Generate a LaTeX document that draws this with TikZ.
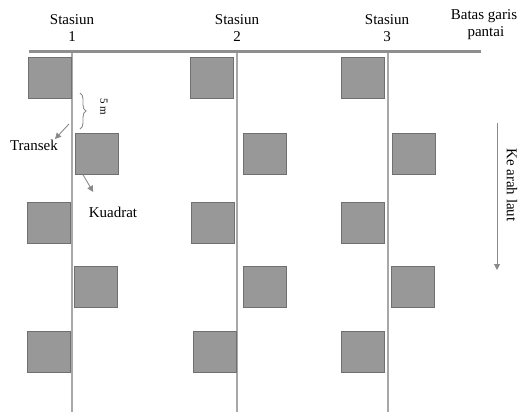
\documentclass[tikz,border=0pt]{standalone}
\usepackage{fontspec}
\setmainfont{Liberation Serif}
\usetikzlibrary{arrows.meta,decorations.pathreplacing}
\definecolor{sqfill}{HTML}{989898}
\definecolor{sqedge}{HTML}{707070}
\definecolor{lngray}{HTML}{A8A8A8}
\definecolor{topgray}{HTML}{8E8E8E}
\definecolor{argray}{HTML}{8A8A8A}
\begin{document}
\begin{tikzpicture}[x=1pt,y=-1pt,
  quad/.style={draw=sqedge,fill=sqfill,line width=0.8pt,minimum width=43pt,minimum height=41pt,inner sep=0pt},
  transect/.style={draw=lngray,line width=1.3pt},
  lbl/.style={font=\fontsize{15}{16}\selectfont,inner sep=0pt,align=center},
  garrow/.style={draw=argray,line width=0.9pt,-{Triangle[length=6pt,width=6pt]}}]
\useasboundingbox (0,0) rectangle (520,412);
% station labels
\node[lbl] (s1) at (72,28) {Stasiun\\[1pt]1};
\node[lbl] (s2) at (237,28) {Stasiun\\[1pt]2};
\node[lbl] (s3) at (387,28) {Stasiun\\[1pt]3};
\node[lbl] (bg) at (484,25) {Batas garis\\[1pt]\ pantai};
% shoreline
\coordinate (shl) at (29,52);
\coordinate (shr) at (481,52);
\draw[draw=topgray,line width=3pt] (shl) -- (shr);
% transects
\coordinate (t1a) at (72,53); \coordinate (t1b) at (72,412);
\coordinate (t2a) at (237,53); \coordinate (t2b) at (237,412);
\coordinate (t3a) at (388,53); \coordinate (t3b) at (388,412);
\draw[transect] (t1a) -- (t1b);
\draw[transect] (t2a) -- (t2b);
\draw[transect] (t3a) -- (t3b);
% quadrats row 1 (left)
\node[quad] (q11) at (49.5,77.5) {};
\node[quad] (q21) at (212,77.5) {};
\node[quad] (q31) at (363,77.5) {};
% row 2 (right)
\node[quad] (q12) at (97,154) {};
\node[quad] (q22) at (264.5,154) {};
\node[quad] (q32) at (413.5,154) {};
% row 3 (left)
\node[quad] (q13) at (48.5,222.5) {};
\node[quad] (q23) at (212.5,222.5) {};
\node[quad] (q33) at (363,222.5) {};
% row 4 (right)
\node[quad] (q14) at (96,287) {};
\node[quad] (q24) at (264.5,287) {};
\node[quad] (q34) at (413,287) {};
% row 5 (left)
\node[quad] (q15) at (48.5,352) {};
\node[quad] (q25) at (215,352) {};
\node[quad] (q35) at (362.5,352) {};
% brace 5 m
\coordinate (bra) at (80,93);
\coordinate (brb) at (80,129);
\draw[draw=argray,line width=0.9pt,decorate,decoration={brace,amplitude=6pt}] (bra) -- (brb);
\node[font=\fontsize{11}{12}\selectfont,rotate=-90,inner sep=0pt] (fm) at (104,107) {5 m};
% Transek
\node[lbl] (tr) at (34,145) {Transek};
\coordinate (trs) at (69,124);
\draw[garrow] (trs) -- (55,139);
% Kuadrat
\node[lbl] (kd) at (113,212) {Kuadrat};
\draw[garrow] (q12.south west) ++(8,0) coordinate (kds) -- ++(10,17);
% Ke arah laut
\coordinate (la) at (497,123);
\coordinate (lb) at (497,270);
\draw[garrow] (la) -- (lb);
\node[lbl,rotate=-90] (kal) at (512,185) {Ke arah laut};
\end{tikzpicture}
\end{document}
